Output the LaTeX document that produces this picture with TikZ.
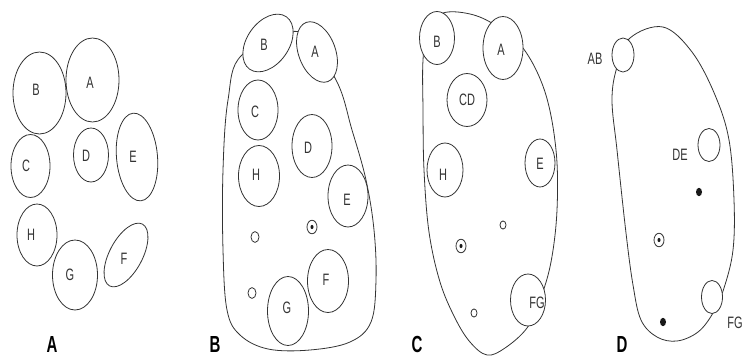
\documentclass[tikz,border=0pt]{standalone}
\usepackage{fontspec}
\setmainfont{Liberation Sans}
\usepackage{graphicx}
\usetikzlibrary{shapes.geometric}
\newcommand\tl[1]{\scalebox{1}[1.5]{#1}}
\newcommand\bl[1]{\scalebox{1}[1.55]{\bfseries #1}}
\tikzset{
 ln/.style={line width=0.8pt, draw=black!80},
 ell/.style={ellipse, ln, fill=white, inner sep=0pt, outer sep=0pt},
 lab/.style={font=\fontsize{11}{11}\selectfont, text=black!80, inner sep=0pt},
 panel/.style={font=\fontsize{15}{15}\selectfont, text=black, inner sep=0pt, anchor=base},
 smallc/.style={ellipse, ln, fill=white, inner sep=0pt, minimum width=#1, minimum height=1.35*#1},
 blk/.style={ellipse, fill=black!90, inner sep=0pt, minimum width=#1, minimum height=1.4*#1},
 bnd/.style={ln, smooth cycle, tension=0.6}
}
\begin{document}
\begin{tikzpicture}[x=1pt,y=-1pt]
\useasboundingbox (0,0) rectangle (744,356);

% ---------- Panel A ----------
\node[ell, minimum width=53, minimum height=82] (aB) at (39.5,93) {};
\node[ell, minimum width=53, minimum height=84] (aA) at (92.5,80) {};
\node[ell, minimum width=39, minimum height=63] (aC) at (30.5,166) {};
\node[ell, minimum width=35, minimum height=54] (aD) at (91,155) {};
\node[ell, minimum width=41, minimum height=88, rotate=5] (aE) at (137,157) {};
\node[ell, minimum width=40, minimum height=62] (aH) at (37,235) {};
\node[ell, minimum width=45, minimum height=70] (aG) at (75,275) {};
\node[ell, minimum width=70, minimum height=33, rotate=62] (aF) at (126,255) {};
\node[lab] (aBl) at (36,90) {\tl{B}};
\node[lab] (aAl) at (90,83) {\tl{A}};
\node[lab] (aCl) at (26,166) {\tl{C}};
\node[lab] (aDl) at (86,156) {\tl{D}};
\node[lab] (aEl) at (133,157) {\tl{E}};
\node[lab] (aHl) at (31,235) {\tl{H}};
\node[lab] (aGl) at (70,275) {\tl{G}};
\node[lab] (aFl) at (124,259) {\tl{F}};
\node[panel] (pA) at (52,352) {\bl{A}};

% ---------- Panel B ----------
\draw[bnd] plot coordinates {(242,55) (228,100) (223,170) (223,250) (227,310) (240,335) (268,349) (310,350) (350,342) (371,322) (376,280) (374,230) (366,180) (352,130) (336,80) (300,32)};
\node[ell, minimum width=64, minimum height=42, rotate=55] (bB) at (268,43) {};
\node[ell, minimum width=63, minimum height=37, rotate=110] (bA) at (317,52) {};
\node[ell, minimum width=40, minimum height=60] (bC) at (258,110) {};
\node[ell, minimum width=41, minimum height=61] (bH) at (259,176) {};
\node[ell, minimum width=40, minimum height=63] (bD) at (312,146) {};
\node[ell, minimum width=40, minimum height=62] (bE) at (348,196) {};
\node[ell, minimum width=41, minimum height=63] (bF) at (328,281) {};
\node[ell, minimum width=41, minimum height=69] (bG) at (288,311) {};
\node[smallc=8] (bs1) at (255,237) {};
\node[smallc=8] (bs2) at (252,293) {};
\node[smallc=10] (bd) at (312,227) {};
\node[blk=3] (bdd) at (bd) {};
\node[lab] (bBl) at (264,45) {\tl{B}};
\node[lab] (bAl) at (315,52) {\tl{A}};
\node[lab] (bCl) at (255,112) {\tl{C}};
\node[lab] (bDl) at (308,148) {\tl{D}};
\node[lab] (bHl) at (256,175) {\tl{H}};
\node[lab] (bEl) at (347,200) {\tl{E}};
\node[lab] (bFl) at (326,280) {\tl{F}};
\node[lab] (bGl) at (287,308) {\tl{G}};
\node[panel] (pB) at (215,352) {\bl{B}};

% ---------- Panel C ----------
\draw[bnd] plot coordinates {(443,13) (470,14) (495,25) (523,48) (545,92) (556,150) (557,210) (551,262) (540,300) (527,328) (505,348) (487,355) (470,342) (455,318) (440,282) (429,232) (424,170) (423,110) (423,60) (428,28)};
\node[ell, minimum width=35, minimum height=53] (cB) at (437,38) {};
\node[ell, minimum width=40, minimum height=63] (cA) at (503,48) {};
\node[ell, minimum width=40, minimum height=53] (cCD) at (467,100) {};
\node[ell, minimum width=36, minimum height=54] (cH) at (445,170) {};
\node[ell, minimum width=30, minimum height=48] (cE) at (540,163) {};
\node[ell, minimum width=35, minimum height=52] (cFG) at (528,300) {};
\node[smallc=6] (cs1) at (503,225) {};
\node[smallc=6] (cs2) at (474,313) {};
\node[smallc=10] (cd) at (461,246) {};
\node[blk=3] (cdd) at (cd) {};
\node[lab] (cBl) at (437,42) {\tl{B}};
\node[lab] (cAl) at (501,50) {\tl{A}};
\node[lab] (cCDl) at (467,100) {\tl{CD}};
\node[lab] (cHl) at (443,175) {\tl{H}};
\node[lab] (cEl) at (540,164) {\tl{E}};
\node[lab] (cFGl) at (537,303) {\tl{FG}};
\node[panel] (pC) at (417,352) {\bl{C}};

% ---------- Panel D ----------
\draw[bnd] plot coordinates {(617,67) (612,100) (617,150) (626,233) (633,285) (641,320) (657,337) (677,341) (698,332) (713,313) (724,288) (733,250) (734,200) (729,140) (715,95) (692,52) (663,27) (630,38)};
\node[ell, minimum width=22, minimum height=34] (dAB) at (623,55) {};
\node[ell, minimum width=22, minimum height=33] (dDE) at (709,145) {};
\node[ell, minimum width=21, minimum height=33] (dFG) at (712,297) {};
\node[blk=6] (dk1) at (699,192) {};
\node[smallc=10] (dd) at (659,240) {};
\node[blk=3] (ddd) at (dd) {};
\node[blk=6] (dk2) at (663,322) {};
\node[lab] (dABl) at (595,59) {\tl{AB}};
\node[lab] (dDEl) at (680,155) {\tl{DE}};
\node[lab] (dFGl) at (735,323) {\tl{FG}};
\node[panel] (pD) at (622,352) {\bl{D}};
\end{tikzpicture}
\end{document}
